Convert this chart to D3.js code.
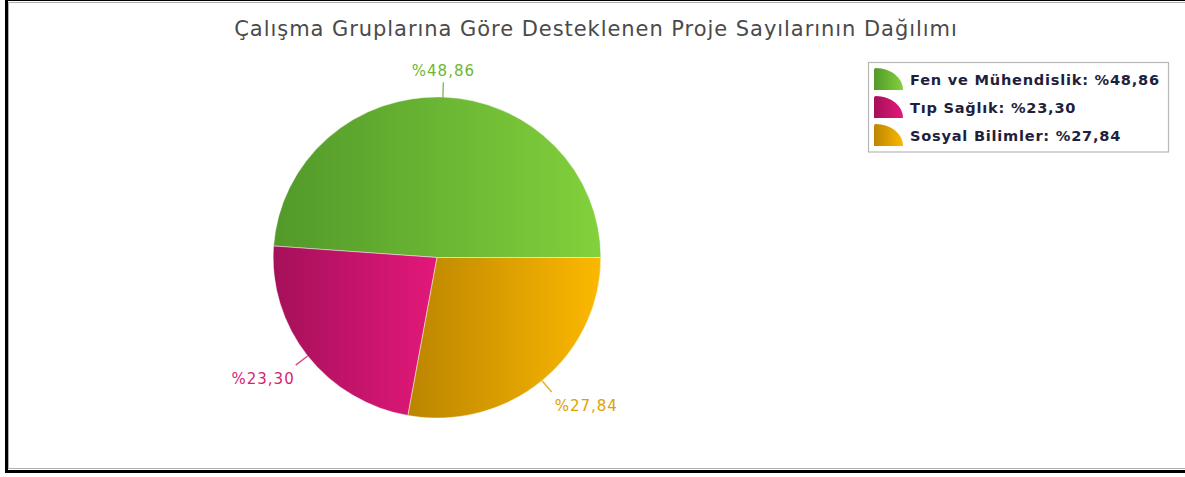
<!DOCTYPE html>
<html><head><meta charset="utf-8">
<script src="https://cdn.jsdelivr.net/npm/d3@7"></script>
<style>html,body{margin:0;padding:0;background:#fff;overflow:hidden}</style>
</head><body>
<svg id="c" width="1185" height="477"></svg>
<script>
const title = "Çalışma Gruplarına Göre Desteklenen Proje Sayılarının Dağılımı";
const categories = ["Fen ve Mühendislik", "Tıp Sağlık", "Sosyal Bilimler"];
const values = [48.86, 23.30, 27.84];
const valueLabels = ["%48,86", "%23,30", "%27,84"];
const darkColors = ["#52992a", "#a5105a", "#bb8500"];
const lightColors = ["#82d13c", "#e3187a", "#fcb800"];
const labelColors = ["#6db634", "#d41f74", "#dca200"];

const svg = d3.select("#c");
const W = 1185, H = 477;
const cx = 437, cy = 257.5, r = 163;
const sxScale = 1.005, syScale = 0.985;

// frame
svg.append("rect").attr("x", 6.5).attr("y", -0.5).attr("width", W + 10).attr("height", 472)
  .attr("fill", "none").attr("stroke", "#000").attr("stroke-width", 3);
svg.append("rect").attr("x", 8.5).attr("y", 2.5).attr("width", W + 10).attr("height", 466)
  .attr("fill", "none").attr("stroke", "#b0b0b0").attr("stroke-width", 1);

const defs = svg.append("defs");
categories.forEach((c, i) => {
  const g = defs.append("linearGradient").attr("id", "g" + i)
    .attr("x1", "0%").attr("x2", "100%").attr("y1", "0%").attr("y2", "0%");
  g.append("stop").attr("offset", "0%").attr("stop-color", darkColors[i]);
  g.append("stop").attr("offset", "100%").attr("stop-color", lightColors[i]);
});

// title
svg.append("text").attr("x", 596).attr("y", 36).attr("text-anchor", "middle")
  .attr("font-family", "DejaVu Sans").attr("font-size", 21).attr("letter-spacing", 0.95)
  .attr("fill", "#4a4a4a").text(title);

const pie = d3.pie().sort(null).value(d => d)
  .startAngle(Math.PI / 2).endAngle(Math.PI / 2 - 2 * Math.PI);
const arcs = pie(values);
const arc = d3.arc().innerRadius(0).outerRadius(r);
const g = svg.append("g").attr("transform", `translate(${cx},${cy}) scale(${sxScale},${syScale})`);
g.selectAll("path.s").data(arcs).join("path").attr("class", "s")
  .attr("d", arc).attr("fill", (d, i) => `url(#g${i})`)
  .attr("stroke", "rgba(255,255,255,0.45)").attr("stroke-width", 1);

// labels
const lgl = svg.append("g").attr("transform", `translate(${cx},${cy})`);
arcs.forEach((d, i) => {
  const a = (d.startAngle + d.endAngle) / 2; // d3 angle, clockwise from 12
  const sx = Math.sin(a), sy = -Math.cos(a);
  const p1 = [sx * r * sxScale, sy * r * syScale], p2 = [sx * (r + 15) * sxScale, sy * (r + 15) * syScale];
  lgl.append("line").attr("x1", p1[0]).attr("y1", p1[1]).attr("x2", p2[0]).attr("y2", p2[1])
    .attr("stroke", labelColors[i]).attr("stroke-width", 1.5).attr("opacity", 0.8);
  let anchor = "middle", tx = p2[0], ty;
  if (sx > 0.3) { anchor = "start"; tx = p2[0] + 3; }
  else if (sx < -0.3) { anchor = "end"; tx = p2[0] - 1; }
  ty = sy > 0 ? p2[1] + 18.5 : p2[1] - 6;
  lgl.append("text").attr("x", tx).attr("y", ty).attr("text-anchor", anchor)
    .attr("font-family", "DejaVu Sans").attr("font-size", 15).attr("letter-spacing", 1)
    .attr("fill", labelColors[i]).text(valueLabels[i]);
});

// legend
const lg = svg.append("g");
lg.append("rect").attr("x", 868.5).attr("y", 62.5).attr("width", 300).attr("height", 89.5)
  .attr("fill", "#fff").attr("stroke", "#b8b8b8").attr("stroke-width", 1.2);
categories.forEach((c, i) => {
  const y0 = 68 + i * 28;
  const x0 = 874, w = 29, h = 22;
  lg.append("path")
    .attr("d", `M${x0},${y0 + h} L${x0},${y0 + 2} Q${x0},${y0} ${x0 + 2},${y0} A${w - 2},${h} 0 0 1 ${x0 + w},${y0 + h} Z`)
    .attr("fill", `url(#g${i})`);
  lg.append("text").attr("x", 910).attr("y", y0 + 17)
    .attr("font-family", "DejaVu Sans").attr("font-weight", "bold").attr("font-size", 14.6)
    .attr("letter-spacing", 0.75)
    .attr("fill", "#1f1f3d").text(`${c}: ${valueLabels[i]}`);
});
</script>
</body></html>
